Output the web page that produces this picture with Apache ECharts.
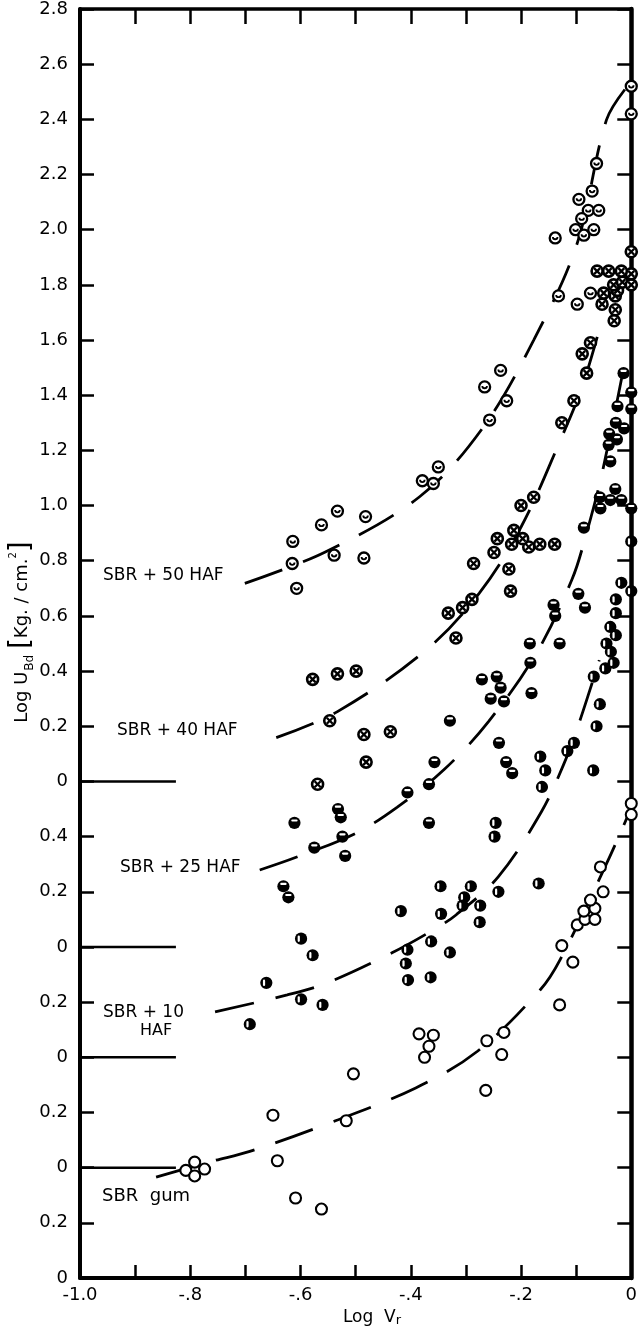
<!DOCTYPE html>
<html>
<head>
<meta charset="utf-8">
<script src="https://cdn.jsdelivr.net/npm/echarts@6.0.0/dist/echarts.min.js"></script>
<style>
html, body { margin: 0; padding: 0; background: #fff; }
#chart { width: 640px; height: 1333px; }
</style>
</head>
<body>
<div id="chart"></div>
<script>
// Tick labels of the stacked log scale, from the bottom tick (0) to the top tick (2.8)
const Y_TICK_LABELS = ['0', '0.2', '0', '0.2', '0', '0.2', '0', '0.2', '0.4', '0',
  '0.2', '0.4', '0.6', '0.8', '1.0', '1.2', '1.4', '1.6', '1.8', '2.0', '2.2', '2.4', '2.6', '2.8'];
const X_TICK_LABELS = ['-1.0', '-.8', '-.6', '-.4', '-.2', '0'];

// Compound names and where each one's zero sits on the stacked axis
const COMPOUNDS = ['SBR gum', 'SBR + 10 HAF', 'SBR + 25 HAF', 'SBR + 40 HAF', 'SBR + 50 HAF'];
const ZERO_LEVELS = [0.4, 0.8, 1.2, 1.8, 1.8];

// Measured points: [log Vr, log U_Bd]
const GUM_POINTS = [
  [-0.808, -0.01], [-0.792, 0.02], [-0.774, -0.005], [-0.792, -0.03],
  [-0.650, 0.19], [-0.642, 0.025], [-0.609, -0.11], [-0.562, -0.15],
  [-0.517, 0.17], [-0.504, 0.34],
  [-0.385, 0.485], [-0.359, 0.48], [-0.367, 0.44], [-0.375, 0.40],
  [-0.262, 0.46], [-0.231, 0.49], [-0.235, 0.41], [-0.264, 0.28],
  [-0.130, 0.59], [-0.126, 0.805], [-0.106, 0.745],
  [-0.098, 0.88], [-0.084, 0.90], [-0.066, 0.90], [-0.086, 0.93], [-0.066, 0.94],
  [-0.074, 0.97], [-0.051, 1.00], [-0.056, 1.09],
  [0, 1.28], [0, 1.32]
];
const HAF10_POINTS = [
  [-0.692, 0.12], [-0.662, 0.27], [-0.599, 0.43], [-0.578, 0.37], [-0.599, 0.21], [-0.560, 0.19],
  [-0.418, 0.53], [-0.406, 0.39], [-0.409, 0.34], [-0.405, 0.28],
  [-0.363, 0.42], [-0.364, 0.29], [-0.329, 0.38], [-0.345, 0.52], [-0.346, 0.62],
  [-0.291, 0.62], [-0.303, 0.58], [-0.306, 0.55], [-0.274, 0.55], [-0.275, 0.49],
  [-0.241, 0.60], [-0.168, 0.63], [-0.246, 0.85], [-0.248, 0.80],
  [-0.162, 0.98], [-0.156, 1.04], [-0.165, 1.09], [-0.116, 1.11], [-0.104, 1.14],
  [-0.069, 1.04], [-0.063, 1.20], [-0.057, 1.28], [-0.068, 1.38],
  [-0.047, 1.41], [-0.032, 1.43], [-0.037, 1.47], [-0.045, 1.50], [-0.028, 1.53],
  [-0.038, 1.56], [-0.028, 1.61], [-0.028, 1.66], [0, 1.69], [-0.018, 1.72], [0, 1.87]
];
const HAF25_POINTS = [
  [-0.631, 0.22], [-0.622, 0.18], [-0.611, 0.45], [-0.575, 0.36], [-0.532, 0.50],
  [-0.527, 0.47], [-0.524, 0.40], [-0.519, 0.33],
  [-0.406, 0.56], [-0.367, 0.59], [-0.357, 0.67], [-0.367, 0.45], [-0.329, 0.82],
  [-0.271, 0.97], [-0.244, 0.98], [-0.237, 0.94], [-0.255, 0.90], [-0.231, 0.89], [-0.181, 0.92],
  [-0.240, 0.74], [-0.227, 0.67], [-0.216, 0.63],
  [-0.184, 1.10], [-0.130, 1.10], [-0.183, 1.03],
  [-0.141, 1.24], [-0.138, 1.20], [-0.096, 1.28], [-0.084, 1.23],
  [-0.086, 1.52], [-0.056, 1.59], [0, 1.59], [-0.057, 1.63], [-0.038, 1.62], [-0.018, 1.62],
  [-0.029, 1.66], [-0.038, 1.76], [-0.041, 1.82], [-0.026, 1.84], [-0.040, 1.86],
  [-0.013, 1.88], [-0.028, 1.90], [0, 1.95], [-0.025, 1.96], [0, 2.01], [-0.014, 2.08]
];
const HAF40_POINTS = [
  [-0.569, -0.01], [-0.547, 0.22], [-0.485, 0.17], [-0.437, 0.18], [-0.481, 0.07],
  [-0.578, 0.37], [-0.533, 0.39], [-0.499, 0.40],
  [-0.318, 0.52], [-0.332, 0.61], [-0.306, 0.63], [-0.289, 0.66], [-0.219, 0.69],
  [-0.222, 0.77], [-0.286, 0.79], [-0.249, 0.83],
  [-0.166, 0.86], [-0.139, 0.86], [-0.186, 0.85], [-0.217, 0.86], [-0.243, 0.88],
  [-0.197, 0.88], [-0.213, 0.91], [-0.200, 1.00], [-0.177, 1.03],
  [-0.126, 1.30], [-0.104, 1.38], [-0.081, 1.48], [-0.089, 1.55], [-0.074, 1.59],
  [-0.031, 1.67], [-0.029, 1.71], [-0.053, 1.73], [-0.029, 1.76], [-0.050, 1.77],
  [-0.025, 1.78], [-0.032, 1.80], [-0.016, 1.81], [0, 1.80], [0, 1.84],
  [-0.062, 1.85], [-0.041, 1.85], [-0.018, 1.85], [0, 1.92]
];
const HAF50_POINTS = [
  [0, 2.52], [0, 2.42], [-0.063, 2.24], [-0.071, 2.14], [-0.095, 2.11], [-0.078, 2.07],
  [-0.059, 2.07], [-0.090, 2.04], [-0.101, 2.00], [-0.068, 2.00], [-0.086, 1.98], [-0.138, 1.97],
  [-0.132, 1.76], [-0.098, 1.73], [-0.074, 1.77],
  [-0.237, 1.49], [-0.266, 1.43], [-0.226, 1.38], [-0.257, 1.31],
  [-0.350, 1.14], [-0.379, 1.09], [-0.359, 1.08],
  [-0.533, 0.98], [-0.562, 0.93], [-0.482, 0.96], [-0.614, 0.87], [-0.539, 0.82],
  [-0.485, 0.81], [-0.615, 0.79], [-0.607, 0.70]
];

// Fitted curves drawn through each set
const GUM_CURVE = [[-0.862, -0.034], [-0.761, 0.023], [-0.692, 0.059], [-0.555, 0.156],
  [-0.391, 0.289], [-0.279, 0.422], [-0.165, 0.645], [-0.129, 0.754], [-0.043, 1.11], [-0.004, 1.286]];
const HAF10_CURVE = [[-0.755, 0.165], [-0.624, 0.226], [-0.554, 0.268], [-0.434, 0.379],
  [-0.354, 0.468], [-0.318, 0.516], [-0.241, 0.655], [-0.163, 0.89], [-0.123, 1.06],
  [-0.099, 1.187], [-0.075, 1.332], [-0.058, 1.44]];
const HAF25_CURVE = [[-0.674, 0.279], [-0.608, 0.325], [-0.5, 0.412], [-0.425, 0.506],
  [-0.339, 0.644], [-0.259, 0.817], [-0.172, 1.065], [-0.108, 1.33], [-0.083, 1.487],
  [-0.052, 1.726], [-0.008, 2.158]];
const HAF40_CURVE = [[-0.644, 0.159], [-0.533, 0.253], [-0.372, 0.477], [-0.276, 0.682],
  [-0.199, 0.926], [-0.128, 1.24], [-0.089, 1.431], [-0.055, 1.66]];
const HAF50_CURVE = [[-0.701, 0.718], [-0.555, 0.832], [-0.384, 1.032], [-0.27, 1.28],
  [-0.177, 1.6], [-0.099, 1.945], [-0.045, 2.398], [-0.007, 2.52]];

const POINT_SETS = [GUM_POINTS, HAF10_POINTS, HAF25_POINTS, HAF40_POINTS, HAF50_POINTS];
const CURVES = [GUM_CURVE, HAF10_CURVE, HAF25_CURVE, HAF40_CURVE, HAF50_CURVE];
const MARKERS = ['open', 'halfLeft', 'halfTop', 'cross', 'cup'];

// Short zero lines drawn out from the left axis
const ZERO_LINES = [0.4, 0.8, 1.2, 1.8];
const ZERO_LINE_END = -0.826;

const FONT = 'DejaVu Sans';
const INK = '#000';

function markerShapes(kind, x, y) {
  const R = 5.5;
  const ring = function (w) {
    return { type: 'circle', shape: { cx: x, cy: y, r: R }, style: { fill: '#fff', stroke: INK, lineWidth: w } };
  };
  const disk = { type: 'circle', shape: { cx: x, cy: y, r: R + 0.6 }, style: { fill: INK } };
  switch (kind) {
    case 'open':
      return [ring(2.1)];
    case 'cup':
      return [ring(2.3), { type: 'arc', shape: { cx: x, cy: y - 1, r: 2.3, startAngle: 0, endAngle: Math.PI, clockwise: true },
        style: { stroke: INK, fill: null, lineWidth: 1.8 } }];
    case 'cross':
      return [ring(2.6),
        { type: 'line', shape: { x1: x - 3, y1: y - 3, x2: x + 3, y2: y + 3 }, style: { stroke: INK, lineWidth: 2.3 } },
        { type: 'line', shape: { x1: x - 3, y1: y + 3, x2: x + 3, y2: y - 3 }, style: { stroke: INK, lineWidth: 2.3 } }];
    case 'halfTop':
      return [disk, { type: 'rect', shape: { x: x - 3.2, y: y - 3.4, width: 6.4, height: 2.2, r: 1.1 }, style: { fill: '#fff' } }];
    case 'halfLeft':
      return [disk, { type: 'rect', shape: { x: x - 3.4, y: y - 3.2, width: 2.2, height: 6.4, r: 1.1 }, style: { fill: '#fff' } }];
  }
  return [ring(2)];
}

const series = [];

ZERO_LINES.forEach(function (lvl) {
  series.push({
    type: 'line', data: [[-1, lvl], [ZERO_LINE_END, lvl]], showSymbol: false, silent: true,
    lineStyle: { color: INK, width: 2.5 }, z: 2
  });
});

CURVES.forEach(function (curve, i) {
  series.push({
    name: COMPOUNDS[i] + ' fit', type: 'line', smooth: 0.35, showSymbol: false, silent: true,
    data: curve.map(function (p) { return [p[0], p[1] + ZERO_LEVELS[i]]; }),
    lineStyle: { color: INK, width: 2.8, type: [40, 22], cap: 'butt' }, z: 3
  });
});

POINT_SETS.forEach(function (pts, i) {
  const kind = MARKERS[i];
  series.push({
    name: COMPOUNDS[i], type: 'custom', z: 5, clip: false,
    data: pts.map(function (p) { return [p[0], p[1] + ZERO_LEVELS[i]]; }),
    renderItem: function (params, api) {
      const c = api.coord([api.value(0), api.value(1)]);
      return { type: 'group', children: markerShapes(kind, c[0], c[1]) };
    }
  });
});

const tickLabelStyle = { color: INK, fontFamily: FONT, fontSize: 18 };

const option = {
  animation: false,
  backgroundColor: '#fff',
  grid: { left: 80, right: 3, top: 9, bottom: 55 },
  xAxis: [
    {
      type: 'value', position: 'bottom', min: -1, max: 0, interval: 0.1,
      axisLine: { show: true, onZero: false, lineStyle: { color: INK, width: 4 } },
      axisTick: { show: true, inside: true, length: 13, lineStyle: { color: INK, width: 2.5 } },
      splitLine: { show: false },
      axisLabel: Object.assign({
        margin: 8, showMinLabel: true, showMaxLabel: true,
        formatter: function (v) {
          const k = Math.round(v * 10);
          if (k % 2 !== 0) return '';
          return X_TICK_LABELS[(k + 10) / 2];
        }
      }, tickLabelStyle)
    },
    {
      type: 'value', position: 'top', min: -1, max: 0, interval: 0.1,
      axisLine: { show: true, onZero: false, lineStyle: { color: INK, width: 3.5 } },
      axisTick: { show: true, inside: true, length: 15, lineStyle: { color: INK, width: 2.5 } },
      splitLine: { show: false }, axisLabel: { show: false }
    }
  ],
  yAxis: [
    {
      type: 'value', position: 'left', min: 0, max: 4.6, interval: 0.2,
      axisLine: { show: true, onZero: false, lineStyle: { color: INK, width: 4 } },
      axisTick: { show: true, inside: true, length: 14, lineStyle: { color: INK, width: 2.5 } },
      splitLine: { show: false },
      axisLabel: Object.assign({
        margin: 12, showMinLabel: true, showMaxLabel: true,
        formatter: function (v) { return Y_TICK_LABELS[Math.round(v / 0.2)]; }
      }, tickLabelStyle)
    },
    {
      type: 'value', position: 'right', min: 0, max: 4.6, interval: 0.2,
      axisLine: { show: true, onZero: false, lineStyle: { color: INK, width: 4.5 } },
      axisTick: { show: true, inside: true, length: 14, lineStyle: { color: INK, width: 2.5 } },
      splitLine: { show: false }, axisLabel: { show: false }
    }
  ],
  series: series,
  graphic: [
    {
      type: 'text', x: 22, y: 632, rotation: Math.PI / 2,
      style: {
        text: '{t|Log U}{sb|Bd}{t| }{br|[}{t|Kg. / cm.}{sp|2}{br|]}',
        align: 'center', verticalAlign: 'middle', fill: INK,
        rich: {
          t: { fontFamily: FONT, fontSize: 18, fill: INK },
          sb: { fontFamily: FONT, fontSize: 12, fill: INK, verticalAlign: 'bottom', padding: [6, 0, 0, 1] },
          sp: { fontFamily: FONT, fontSize: 10, fill: INK, verticalAlign: 'top' },
          br: { fontFamily: FONT, fontSize: 28, fill: INK }
        }
      }
    },
    {
      type: 'text', x: 372, y: 1318,
      style: {
        text: '{t|Log  V}{sb|r}', align: 'center', verticalAlign: 'middle', fill: INK,
        rich: {
          t: { fontFamily: FONT, fontSize: 17, fill: INK },
          sb: { fontFamily: FONT, fontSize: 13, fill: INK, verticalAlign: 'bottom', padding: [5, 0, 0, 0] }
        }
      }
    },
    { type: 'text', x: 103, y: 576, style: { text: 'SBR + 50 HAF', fontFamily: FONT, fontSize: 17, fill: INK, align: 'left', verticalAlign: 'middle' } },
    { type: 'text', x: 117, y: 731, style: { text: 'SBR + 40 HAF', fontFamily: FONT, fontSize: 17, fill: INK, align: 'left', verticalAlign: 'middle' } },
    { type: 'text', x: 120, y: 868, style: { text: 'SBR + 25 HAF', fontFamily: FONT, fontSize: 17, fill: INK, align: 'left', verticalAlign: 'middle' } },
    { type: 'text', x: 103, y: 1013, style: { text: 'SBR + 10', fontFamily: FONT, fontSize: 17, fill: INK, align: 'left', verticalAlign: 'middle' } },
    { type: 'text', x: 140, y: 1031, style: { text: 'HAF', fontFamily: FONT, fontSize: 16, fill: INK, align: 'left', verticalAlign: 'middle' } },
    { type: 'text', x: 102, y: 1196, style: { text: 'SBR  gum', fontFamily: FONT, fontSize: 18, fill: INK, align: 'left', verticalAlign: 'middle' } }
  ]
};

const chart = echarts.init(document.getElementById('chart'), null, { renderer: 'canvas' });
chart.setOption(option);
</script>
</body>
</html>
